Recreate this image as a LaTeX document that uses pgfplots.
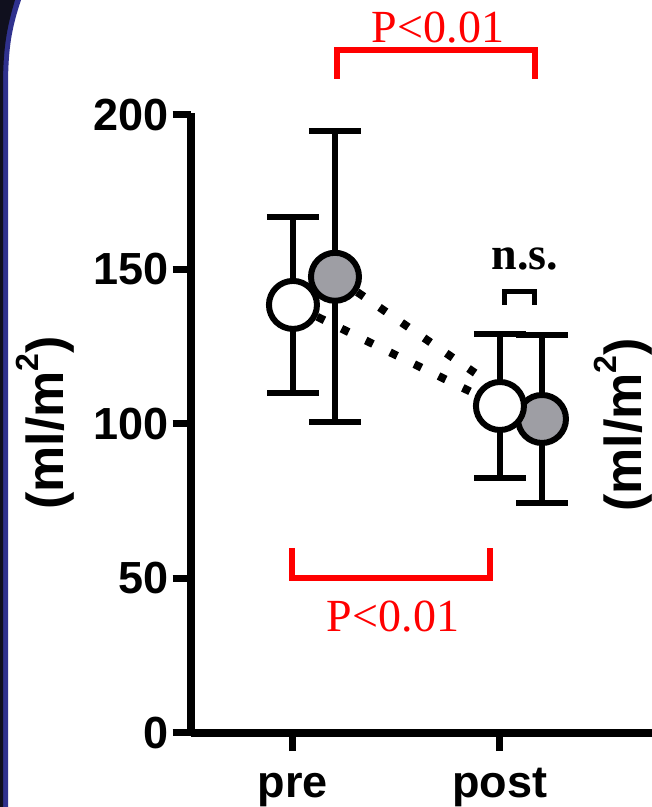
\documentclass[border=0pt]{standalone}
\usepackage{fontspec}
\setmainfont{Liberation Sans}
\newfontfamily\seriffont{Liberation Serif}
\usepackage{pgfplots}
\pgfplotsset{compat=1.18}
\definecolor{mgray}{RGB}{158,158,164}
\definecolor{navyb}{RGB}{48,50,142}
\definecolor{navyd}{RGB}{16,16,30}
\newcommand{\unitlabel}{(ml/m\raisebox{25bp}{\fontsize{32bp}{32bp}\selectfont 2})}
\begin{document}
\begin{tikzpicture}[x=1bp,y=1bp]
\useasboundingbox (0,0) rectangle (652,807);
\fill[white] (0,0) rectangle (652,807);
\fill[navyb] (0,0) -- (0,807) -- (21,807) .. controls (12,780) and (8,760) .. (8,720) -- (8,0) -- cycle;
\fill[navyd] (0,0) -- (0,807) -- (15,807) .. controls (7,780) and (3,760) .. (3,720) -- (3,0) -- cycle;
\begin{axis}[
  at={(190.5bp,74bp)}, anchor=south west,
  scale only axis, width=461.5bp, height=620bp,
  xmin=-0.495, xmax=1.7346, ymin=0, ymax=200.6,
  axis x line=bottom, axis y line=left,
  axis line style={line width=8bp, -},
  xtick={0,1}, xticklabels={pre,post},
  ytick={0,50,100,150,200},
  tick align=outside,
  major tick length=18bp,
  tick style={line width=7bp, black},
  ticklabel style={font=\fontsize{45bp}{50bp}\selectfont\bfseries},
  xticklabel style={text height=35bp, text depth=10bp, yshift=-8bp},
  /pgf/number format/assume math mode=true,
  clip=false,
]
\addplot[black, line width=8bp, dash pattern=on 8bp off 19bp, line cap=butt] coordinates {(0,138.5) (1,105.8)};
\addplot[black, line width=8bp, dash pattern=on 8bp off 19bp, line cap=butt] coordinates {(0.203,147.6) (1.203,101.6)};
% open pre
\addplot[only marks, mark=*, mark size=24bp, mark options={fill=white, draw=black, line width=6bp},
  error bars/.cd, y dir=both, y explicit, error bar style={line width=6bp, black},
  error mark options={rotate=90, mark size=26bp, line width=6bp, black}]
  coordinates {(0,138.5) +- (0,28.5)};
% gray pre
\addplot[only marks, mark=*, mark size=24bp, mark options={fill=mgray, draw=black, line width=6bp},
  error bars/.cd, y dir=both, y explicit, error bar style={line width=6bp, black},
  error mark options={rotate=90, mark size=26bp, line width=6bp, black}]
  coordinates {(0.203,147.6) +- (0,47.1)};
% gray post
\addplot[only marks, mark=*, mark size=24bp, mark options={fill=mgray, draw=black, line width=6bp},
  error bars/.cd, y dir=both, y explicit, error bar style={line width=6bp, black},
  error mark options={rotate=90, mark size=26bp, line width=6bp, black}]
  coordinates {(1.203,101.6) +- (0,27.2)};
% open post
\addplot[only marks, mark=*, mark size=24bp, mark options={fill=white, draw=black, line width=6bp},
  error bars/.cd, y dir=both, y explicit, error bar style={line width=6bp, black},
  error mark options={rotate=90, mark size=26bp, line width=6bp, black}]
  coordinates {(1,105.8) +- (0,23.3)};
\end{axis}
\draw[red, line width=5.5bp] (337,728) -- (337,757) -- (535,757) -- (535,728);
\node[red, font=\seriffont\fontsize{46bp}{50bp}\selectfont, anchor=base, inner sep=0] at (438,764) {P<0.01};
\draw[red, line width=5.5bp] (292,259) -- (292,229) -- (490,229) -- (490,259);
\node[red, font=\seriffont\fontsize{46bp}{50bp}\selectfont, anchor=base, inner sep=0] at (393,175) {P<0.01};
\draw[black, line width=5bp] (504,502) -- (504,515) -- (534,515) -- (534,502);
\node[black, font=\seriffont\bfseries\fontsize{46bp}{50bp}\selectfont, anchor=base, inner sep=0] at (525,537) {n.s.};
\node[rotate=90, anchor=base, font=\bfseries\fontsize{52bp}{58bp}\selectfont, inner sep=0] at (63,384) {\unitlabel};
\node[rotate=90, anchor=base, font=\bfseries\fontsize{52bp}{58bp}\selectfont, inner sep=0] at (641,382) {\unitlabel};
\end{tikzpicture}
\end{document}
